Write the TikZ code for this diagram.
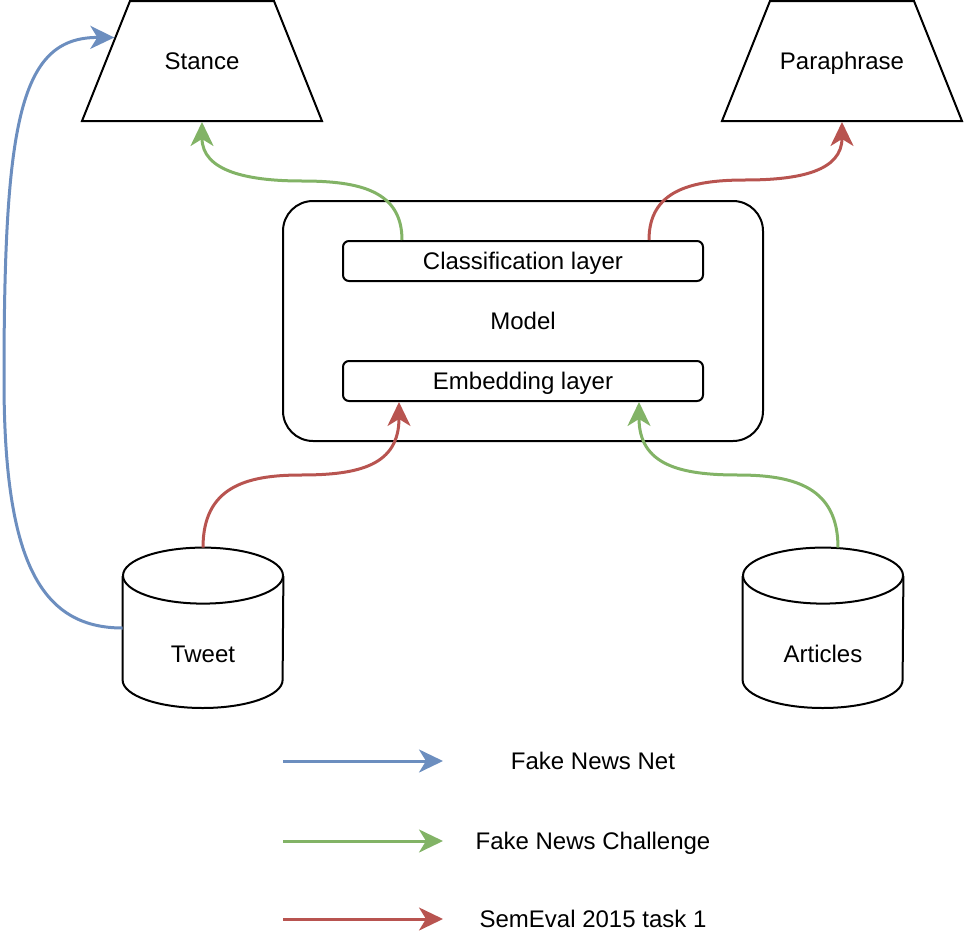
\documentclass[tikz,border=0pt]{standalone}
\usepackage{fontspec}
\setmainfont{Liberation Sans}
\usetikzlibrary{shapes.geometric,arrows.meta,calc}

\definecolor{netblue}{HTML}{6C8EBF}
\definecolor{chalgreen}{HTML}{82B366}
\definecolor{semred}{HTML}{B85450}

\tikzset{
  task/.style={draw, line width=1pt, trapezium, trapezium left angle=68.2,
    trapezium right angle=68.2, text width=72pt, align=center,
    inner xsep=0pt, inner ysep=25.7pt},
  dataset/.style={minimum width=80pt, minimum height=80pt, inner sep=0pt},
  canline/.style={line width=1pt},
  layer/.style={draw, line width=1pt, rounded corners=3pt,
    minimum width=180pt, minimum height=20pt, inner sep=0pt},
  flow/.style={line width=1.5pt, -{Stealth[length=12pt,width=11.5pt,inset=3.5pt]}},
  fnn/.style={flow, netblue},
  fnc/.style={flow, chalgreen},
  sem/.style={flow, semred}
}

\begin{document}
\begin{tikzpicture}[x=0.5pt,y=0.5pt,yscale=-1,xscale=1,
  every node/.append style={font=\fontsize{12}{14}\selectfont, text height=8.6pt, text depth=0pt}]
\useasboundingbox (0,0) rectangle (964,942);

%Shape: Trapezoid
\node[task] (stance) at (202,61) {Stance};
%Shape: Trapezoid
\node[task] (paraphrase) at (842,61) {Paraphrase};

%Rounded Rect
\node[draw, line width=1pt, rounded corners=15pt, minimum width=240pt, minimum height=120pt, inner sep=0pt] (model) at (523,321) {Model};
%Rounded Rect
\node[layer] (cls) at (523,261) {Classification layer};
%Rounded Rect
\node[layer] (emb) at (523,381) {Embedding layer};

%Shape: Can
\node[dataset, label={[yshift=-12.75pt]center:Tweet}] (tweet) at (203,628) {};
\draw[canline] ($(tweet.north)+(0,28)$) ellipse [x radius=80, y radius=28];
\draw[canline] ($(tweet.west)+(0,-52)$) -- ($(tweet.west)+(0,52)$)
  arc[start angle=180, end angle=0, x radius=80, y radius=28] -- ($(tweet.east)+(0,-52)$);
%Shape: Can
\node[dataset, label={[yshift=-12.75pt]center:Articles}] (articles) at (823,628) {};
\draw[canline] ($(articles.north)+(0,28)$) ellipse [x radius=80, y radius=28];
\draw[canline] ($(articles.west)+(0,-52)$) -- ($(articles.west)+(0,52)$)
  arc[start angle=180, end angle=0, x radius=80, y radius=28] -- ($(articles.east)+(0,-52)$);

%Curve Lines
\draw[fnn] (tweet.west) .. controls (40,628) and (4,560) .. (4,380)
  .. controls (4,120) and (20,37) .. (stance.165);
%Curve Lines
\draw[fnc] ($(cls.north west)+(60,0)$) .. controls +(0,-49) and +(58,0) .. (302,181)
  .. controls +(-55,0) and +(0,49) .. (stance.south);
%Curve Lines
\draw[sem] ($(cls.north east)+(-55,0)$) .. controls +(0,-49) and +(-55,0) .. (745,180)
  .. controls +(55,0) and +(0,49) .. (paraphrase.south);
%Curve Lines
\draw[sem] (tweet.north) .. controls +(0,-60) and +(-56,0) .. (301,475)
  .. controls +(59,0) and +(0,63) .. ($(emb.south west)+(57,0)$);
%Curve Lines
\draw[fnc] ($(articles.north)+(15,0)$) .. controls +(0,-60) and +(57,0) .. (738,475)
  .. controls +(-58,0) and +(0,63) .. ($(emb.south east)+(-65,0)$);

%Legend
\coordinate (fnnA) at (283,761);
\coordinate (fnnB) at (443,761);
\draw[fnn] (fnnA) -- (fnnB);
% Text Node
\node (fnnlabel) at (593,761) {Fake News Net};

\coordinate (fncA) at (283,841);
\coordinate (fncB) at (443,841);
\draw[fnc] (fncA) -- (fncB);
% Text Node
\node (fnclabel) at (593,841) {Fake News Challenge};

\coordinate (semA) at (283,919);
\coordinate (semB) at (443,919);
\draw[sem] (semA) -- (semB);
% Text Node
\node (semlabel) at (593,919) {SemEval 2015 task 1};

\end{tikzpicture}
\end{document}
